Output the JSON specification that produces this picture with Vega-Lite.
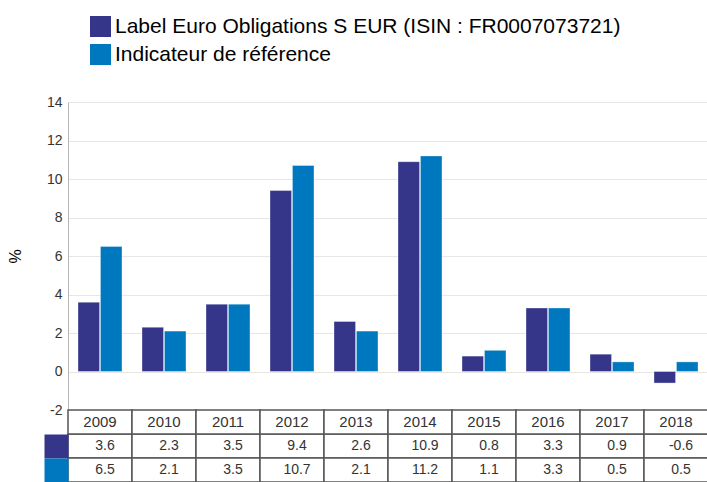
{
  "$schema": "https://vega.github.io/schema/vega-lite/v6.json",
  "autosize": {"type": "pad"},
  "padding": {"left": 7, "top": 16, "right": 0, "bottom": 0},
  "background": "white",
  "spacing": 0,
  "bounds": "flush",
  "datasets": {
    "perf": [
      {"year": "2009", "series": "Label Euro Obligations S EUR (ISIN : FR0007073721)", "value": 3.6},
      {"year": "2010", "series": "Label Euro Obligations S EUR (ISIN : FR0007073721)", "value": 2.3},
      {"year": "2011", "series": "Label Euro Obligations S EUR (ISIN : FR0007073721)", "value": 3.5},
      {"year": "2012", "series": "Label Euro Obligations S EUR (ISIN : FR0007073721)", "value": 9.4},
      {"year": "2013", "series": "Label Euro Obligations S EUR (ISIN : FR0007073721)", "value": 2.6},
      {"year": "2014", "series": "Label Euro Obligations S EUR (ISIN : FR0007073721)", "value": 10.9},
      {"year": "2015", "series": "Label Euro Obligations S EUR (ISIN : FR0007073721)", "value": 0.8},
      {"year": "2016", "series": "Label Euro Obligations S EUR (ISIN : FR0007073721)", "value": 3.3},
      {"year": "2017", "series": "Label Euro Obligations S EUR (ISIN : FR0007073721)", "value": 0.9},
      {"year": "2018", "series": "Label Euro Obligations S EUR (ISIN : FR0007073721)", "value": -0.6},
      {"year": "2009", "series": "Indicateur de référence", "value": 6.5},
      {"year": "2010", "series": "Indicateur de référence", "value": 2.1},
      {"year": "2011", "series": "Indicateur de référence", "value": 3.5},
      {"year": "2012", "series": "Indicateur de référence", "value": 10.7},
      {"year": "2013", "series": "Indicateur de référence", "value": 2.1},
      {"year": "2014", "series": "Indicateur de référence", "value": 11.2},
      {"year": "2015", "series": "Indicateur de référence", "value": 1.1},
      {"year": "2016", "series": "Indicateur de référence", "value": 3.3},
      {"year": "2017", "series": "Indicateur de référence", "value": 0.5},
      {"year": "2018", "series": "Indicateur de référence", "value": 0.5}
    ]
  },
  "vconcat": [
    {
      "width": 640,
      "height": 308,
      "data": {"name": "perf"},
      "mark": {"type": "bar", "stroke": "white", "strokeWidth": 1, "strokeOpacity": 0.35},
      "encoding": {
        "x": {"field": "year", "type": "nominal", "axis": null,
              "scale": {"paddingInner": 0.3125, "paddingOuter": 0.15625}},
        "xOffset": {"field": "series", "type": "nominal",
              "scale": {"domain": ["Label Euro Obligations S EUR (ISIN : FR0007073721)", "Indicateur de référence"], "paddingInner": 0.04}},
        "y": {"field": "value", "type": "quantitative", "title": "%",
              "scale": {"domain": [-2, 14], "nice": false},
              "axis": {"values": [-2, 0, 2, 4, 6, 8, 10, 12, 14], "ticks": false, "labelPadding": 6,
                       "labelFontSize": 14, "labelColor": "#333333", "labelFont": "Liberation Sans",
                       "gridColor": "#e6e6e6", "domainColor": "#b5b5b5",
                       "titleFont": "Liberation Sans", "titleFontSize": 16, "titleFontWeight": "normal",
                       "titleColor": "#000000", "titlePadding": 23}},
        "color": {"field": "series", "type": "nominal",
              "scale": {"domain": ["Label Euro Obligations S EUR (ISIN : FR0007073721)", "Indicateur de référence"],
                        "range": ["#35368a", "#0078c0"]},
              "legend": {"orient": "none", "legendX": 22, "legendY": -86, "title": null,
                         "symbolType": "square", "symbolSize": 441, "symbolStrokeWidth": 0,
                         "labelFont": "Liberation Sans", "labelFontSize": 21, "labelColor": "#000000",
                         "labelLimit": 0, "labelOffset": 4, "rowPadding": 6}}
      }
    },
    {
      "width": 640,
      "height": 72,
      "data": {"name": "perf"},
      "encoding": {
        "x": {"field": "year", "type": "nominal", "axis": null,
              "scale": {"paddingInner": 0, "paddingOuter": 0}}
      },
      "layer": [
        {
          "mark": {"type": "rect", "fill": "white", "stroke": "#555555", "strokeWidth": 1.5},
          "encoding": {
            "y": {"field": "series", "type": "nominal",
                  "scale": {"domain": ["Année", "Label Euro Obligations S EUR (ISIN : FR0007073721)", "Indicateur de référence"],
                            "paddingInner": 0, "paddingOuter": 0},
                  "axis": {"title": null, "labels": false, "domain": false, "grid": false, "ticks": true,
                           "tickSize": 24, "tickWidth": 24,
                           "tickColor": {"condition": {"test": "datum.value === 'Indicateur de référence'", "value": "#0078c0"}, "value": "#35368a"},
                           "tickOpacity": {"condition": {"test": "datum.value === 'Année'", "value": 0}, "value": 1}}}
          }
        },
        {
          "transform": [{"filter": "datum.series === 'Indicateur de référence'"}],
          "mark": {"type": "rect", "fill": "white", "stroke": "#555555", "strokeWidth": 1.5},
          "encoding": {
            "y": {"datum": "Année", "type": "nominal"}
          }
        },
        {
          "transform": [{"filter": "datum.series === 'Indicateur de référence'"}],
          "mark": {"type": "text", "font": "Liberation Sans", "fontSize": 15, "color": "#333333"},
          "encoding": {
            "y": {"datum": "Année", "type": "nominal"},
            "text": {"field": "year"}
          }
        },
        {
          "mark": {"type": "text", "font": "Liberation Sans", "fontSize": 14, "color": "#333333", "dx": 5},
          "encoding": {
            "y": {"field": "series", "type": "nominal"},
            "text": {"field": "value", "type": "quantitative", "format": ".1f"}
          }
        }
      ]
    }
  ],
  "config": {
    "view": {"stroke": null},
    "font": "Liberation Sans",
    "locale": {"number": {"decimal": ".", "thousands": ",", "grouping": [3], "currency": ["", ""], "minus": "-"}}
  }
}
